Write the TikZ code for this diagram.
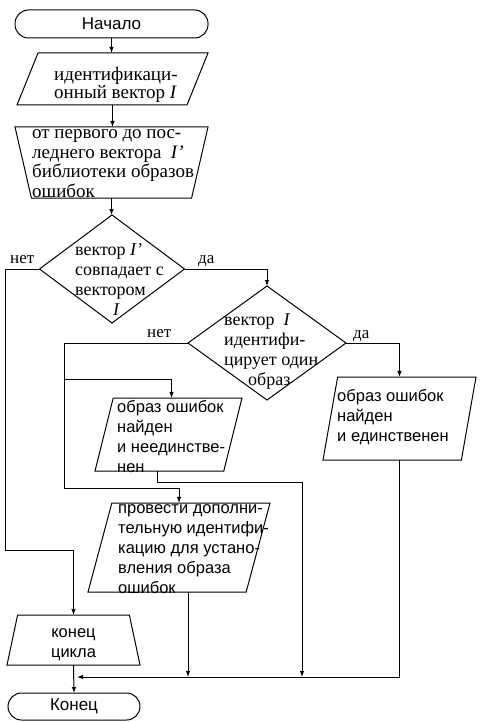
\documentclass[tikz,border=0pt]{standalone}
\usepackage{fontspec}
\setmainfont{Liberation Serif}
\setsansfont{Liberation Sans}
\usetikzlibrary{positioning,arrows.meta,shapes.geometric}

\newcommand{\serfont}{\fontsize{18}{20}\selectfont}
\newcommand{\sanfont}{\fontsize{16.5}{20}\sffamily\selectfont}
\newcommand{\tall}[1]{\rule{0pt}{#1pt}}

\begin{document}
\begin{tikzpicture}[x=1pt,y=-1pt,
    shp/.style={draw=black,line width=1pt,inner sep=0pt,outer sep=0pt},
    term/.style={shp,rectangle,rounded corners=13.5pt,
                 font=\fontsize{17}{20}\sffamily\selectfont},
    para/.style 2 args={shp,trapezium,trapezium stretches body,
                 trapezium left angle=#1,trapezium right angle=#2},
    cond/.style={shp,diamond},
    txt/.style={inner sep=0pt,anchor=base west,align=left,font=\serfont},
    stxt/.style={txt,font=\sanfont},
    lbl/.style={inner sep=0pt,anchor=base west,font=\fontsize{17}{20}\selectfont},
    line/.style={line width=1pt},
    arr/.style={line,-{Latex[length=6pt,width=4.5pt]}}]
  \useasboundingbox (0,0) rectangle (479,722);

  % blocks
  \node[term,minimum width=193pt,minimum height=28pt] (start) at (111.5,24) {Начало};
  \node[para={68}{112},minimum width=191pt] (ident) at (112.5,79) {\tall{52}};
  \node[para={103}{103},minimum width=193pt] (loopbeg) at (111.5,162.5) {\tall{71}};
  \node[cond,minimum width=145pt,minimum height=108pt] (match) at (112,269) {};
  \node[cond,minimum width=158pt,minimum height=114pt] (unique) at (267,343) {};
  \node[para={76}{104},minimum width=147pt] (many) at (168.5,434.5) {\tall{73}};
  \node[para={80}{100},minimum width=153pt] (single) at (399.5,418.5) {\tall{83}};
  \node[para={75}{105},minimum width=182pt] (extra) at (179,547.5) {\tall{89}};
  \node[para={78}{78},minimum width=133pt] (loopend) at (73.5,640) {\tall{50}};
  \node[term,minimum width=132pt,minimum height=27pt] (stop) at (74,706.5) {Конец};

  % texts
  \node[txt,font=\fontsize{19}{18}\selectfont] (ident-t) at (54,99)
      {идентификаци-\\онный вектор \textit{I}};
  \node[txt,font=\fontsize{19}{19.5}\selectfont] (loopbeg-t) at (32,197)
      {от первого до пос-\\леднего вектора\ \ \textit{I'}\\библиотеки образов\\ошибок};
  \node[txt] (match-t) at (75,315)
      {вектор \textit{I'}\\совпадает с\\вектором\\\hspace*{38pt}\textit{I}};
  \node[txt] (unique-t) at (224,385)
      {вектор\ \ \textit{I}\\идентифи-\\цирует один\\\hspace*{24pt}образ};
  \node[stxt] (many-t) at (117,472) {образ ошибок\\найден\\и неединстве-\\нен};
  \node[stxt] (single-t) at (337,441) {образ ошибок\\найден\\и единственен};
  \node[stxt] (extra-t) at (118,593)
      {провести дополни-\\тельную идентифи-\\кацию для устано-\\вления образа\\ошибок};
  \node[stxt,align=center,anchor=base] (loopend-t) at (73.5,657) {конец\\цикла};

  % labels
  \node[lbl] (no1) at (10,263) {нет};
  \node[lbl] (yes1) at (198,263) {да};
  \node[lbl] (no2) at (147,337) {нет};
  \node[lbl] (yes2) at (353,338) {да};

  \coordinate (railL) at (5,550);
  \coordinate (forkA) at (64,379);
  \coordinate (railM) at (64,488);
  \coordinate (railR) at (302,482);
  \coordinate (join) at (77,677);

  % connectors
  \draw[arr] (start.south) -- (start.south |- ident.north);
  \draw[arr] (ident.south) -- (ident.south |- loopbeg.north);
  \draw[arr] (loopbeg.south) -- (loopbeg.south |- match.north);
  \draw[arr] (match.east) -| (unique.north);
  \draw[arr] (match.west) -| (railL) -| (loopend.north);
  \draw[line] (unique.west) -| (forkA);
  \draw[arr] (forkA) -| ([xshift=3pt]many.north);
  \draw[arr] (forkA) -- (railM) -| (extra.north);
  \draw[arr] (unique.east) -| (single.north);
  \draw[arr] ([xshift=-11.5pt]many.south) |- (railR) -- (railR |- join);
  \draw[arr] ([xshift=9pt]extra.south) coordinate (extraOut) -- (extraOut |- join);
  \draw[arr] (single.south) |- (join);
  \draw[arr] (loopend.south) -- (stop.north);
\end{tikzpicture}
\end{document}
